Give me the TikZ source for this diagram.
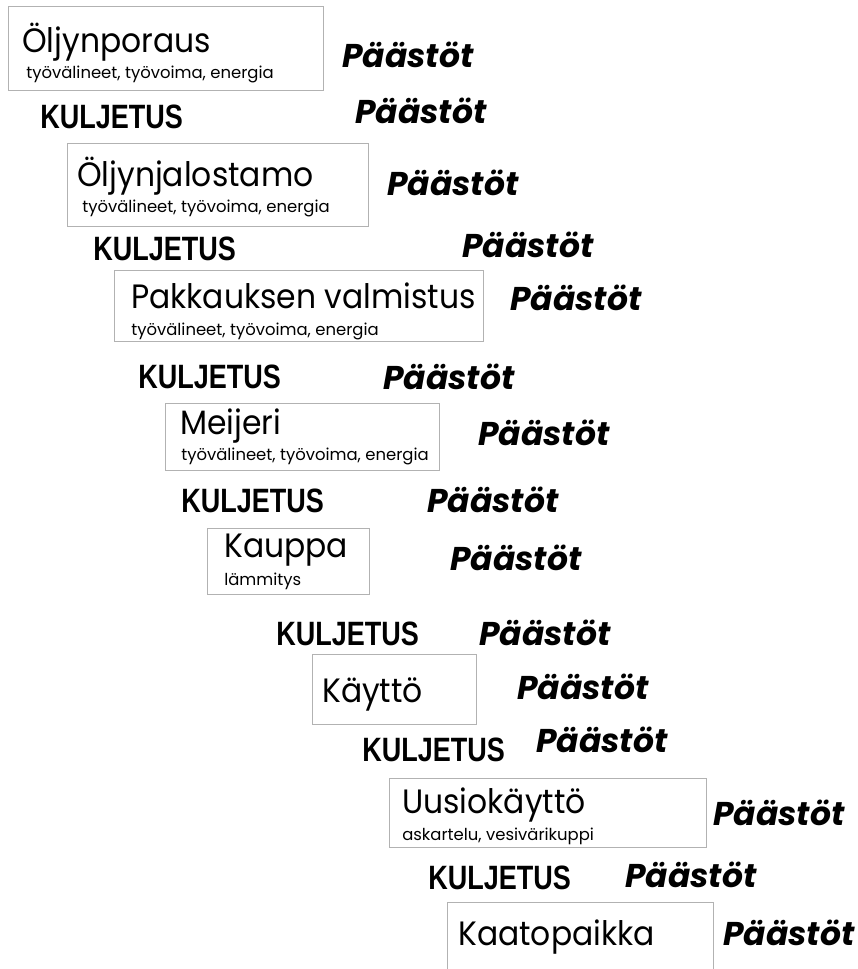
\documentclass[tikz,border=0pt]{standalone}
\usepackage{fontspec}
\newfontfamily\titlefont[FakeStretch=0.93]{Poppins}
\newfontfamily\subfont{Poppins}
\newfontfamily\kulfont[FakeStretch=0.8]{Liberation Sans}
\newfontfamily\pfont{Poppins}
\usetikzlibrary{positioning}
\definecolor{boxgray}{RGB}{178,178,178}
\tikzset{
    stage/.style={rectangle, draw=boxgray, line width=0.6pt, anchor=north west, inner sep=0pt},
    stagetitle/.style={anchor=base west, inner sep=0pt, font=\titlefont\fontsize{24}{24}\selectfont},
    stagesub/.style={anchor=base west, inner sep=0pt, font=\subfont\fontsize{11.7}{12}\selectfont},
    kul/.style={anchor=base west, inner sep=0pt, font=\kulfont\bfseries\fontsize{24}{24}\selectfont},
    pst/.style={anchor=base west, inner sep=0pt, font=\pfont\bfseries\itshape\fontsize{23.4}{24}\selectfont}
}

\begin{document}
\begin{tikzpicture}[x=0.025cm, y=-0.025cm]

        \clip (0,0) rectangle (857,969);

        % stages
        \node[stage, minimum width=7.875cm, minimum height=2.1cm] (poraus) at (8,6) {};
        \node[stage, minimum width=7.525cm, minimum height=2.075cm] (jalostamo) at (67,143) {};
        \node[stage, minimum width=9.225cm, minimum height=1.775cm] (pakkaus) at (114,270) {};
        \node[stage, minimum width=6.85cm, minimum height=1.675cm] (meijeri) at (165,403) {};
        \node[stage, minimum width=4.05cm, minimum height=1.65cm] (kauppa) at (207,528) {};
        \node[stage, minimum width=4.1cm, minimum height=1.75cm] (kaytto) at (312,654) {};
        \node[stage, minimum width=7.925cm, minimum height=1.725cm] (uusio) at (389,778) {};
        \node[stage, minimum width=6.65cm, minimum height=2.5cm] (kaato) at (447,902) {};

        % stage texts
        \node[stagetitle] (poraus t) at (22,52) {Öljynporaus};
        \node[stagesub] (poraus s) at (26,78) {työvälineet, työvoima, energia};
        \node[stagetitle] (jalostamo t) at (77,186) {Öljynjalostamo};
        \node[stagesub] (jalostamo s) at (82,212) {työvälineet, työvoima, energia};
        \node[stagetitle] (pakkaus t) at (131,308) {Pakkauksen valmistus};
        \node[stagesub] (pakkaus s) at (131,335) {työvälineet, työvoima, energia};
        \node[stagetitle] (meijeri t) at (180,434) {Meijeri};
        \node[stagesub] (meijeri s) at (181,460) {työvälineet, työvoima, energia};
        \node[stagetitle] (kauppa t) at (224,557) {Kauppa};
        \node[stagesub] (kauppa s) at (224,585) {lämmitys};
        \node[stagetitle] (kaytto t) at (322,702) {Käyttö};
        \node[stagetitle] (uusio t) at (402,813) {Uusiokäyttö};
        \node[stagesub] (uusio s) at (402,840) {askartelu, vesivärikuppi};
        \node[stagetitle] (kaato t) at (458,945) {Kaatopaikka};

        % transport
        \foreach \x/\y [count=\i] in {40/128, 93/260, 138/388, 181/512, 276/645, 362/761, 428/889}
            \node[kul] (kul \i) at (\x,\y) {KULJETUS};

        % emissions
        \foreach \x/\y [count=\i] in {342/67, 355/123, 387/195, 462/257, 510/310, 383/389, 478/445, 427/512, 450/570, 479/645, 517/699, 536/752, 713/825, 625/887, 723/945}
            \node[pst] (pst \i) at (\x,\y) {Päästöt};

\end{tikzpicture}
\end{document}
